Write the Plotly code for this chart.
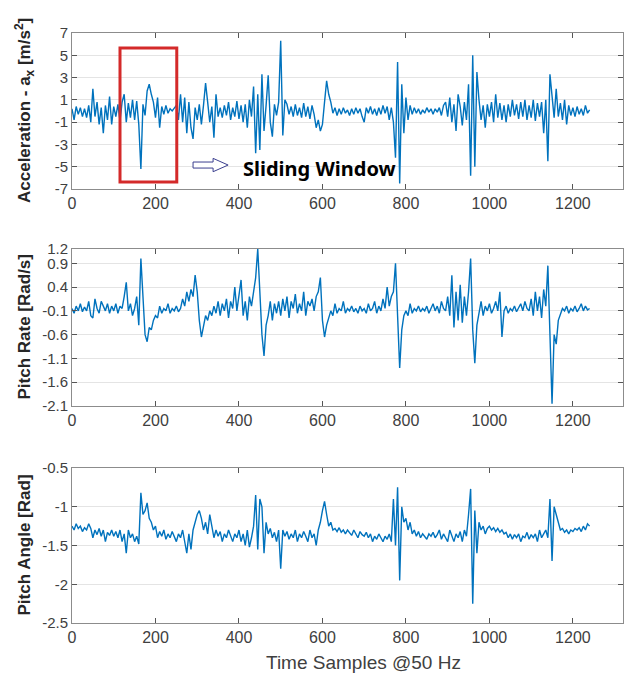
import plotly.graph_objects as go

# ---------------- data (one value every 5 samples) ----------------
step = 5
n_pts = 249
time_samples = [i * step for i in range(n_pts)]

accel_x = [
    0.2, -0.8, 0.4, -0.3, 0.3, -0.5, 0.2, -0.6, 0.5, -1.0, 2.0, -0.5, 0.8, -1.2, 0.3, -2.0, 0.5, -0.8, 1.3, -1.2,
    0.4, -0.5, 0.6, -0.9, 0.8, 1.5, -1.0, 0.7, -0.6, 1.0, -0.8, 0.9, -1.2, -5.2, 0.6, -0.4, 1.8, 2.4, 1.5, 0.8,
    -0.6, 1.2, -1.5, 0.4, -0.3, 0.5, -0.2, 0.2, 0.0, 0.3, 0.5, -0.8, 1.5, -1.0, 1.2, -2.0, 0.8, -1.5, -2.5, 0.3,
    -0.8, 0.6, -1.2, 0.5, 2.5, 0.8, -1.0, 0.4, -2.4, 1.5, -0.5, 0.3, -0.6, 0.5, -0.4, 0.8, -0.8, 0.3, -0.5, 0.9,
    -0.7, 0.5, -1.0, 0.6, -1.5, 1.0, -0.5, 2.2, -3.8, 1.5, -3.5, 3.3, -1.8, 0.5, 3.2, -1.0, -2.3, 0.6, -0.4, 0.8,
    6.3, -2.2, 1.0, 0.6, -0.3, 0.4, -0.5, 0.6, -0.4, 0.3, -0.6, 0.7, -0.5, 0.4, -0.7, 0.5, -0.3, -1.5, -0.8, -1.8,
    -1.2, 0.8, 2.7, 1.5, 0.8, -0.2, 0.3, -0.4, 0.2, -0.3, 0.3, -0.2, 0.1, -0.4, 0.2, -0.3, 0.3, -0.2, 0.2, -0.5,
    -1.0, 0.3, -0.2, 0.4, -0.3, 0.2, -0.4, 0.3, -0.3, 0.5, -0.2, 0.4, -0.8, 0.3, -1.0, -4.2, 4.4, -6.5, 2.4, -2.0,
    1.2, -0.8, 0.5, -0.3, 0.3, -0.2, 0.2, -0.3, 0.1, -0.2, 0.3, -0.1, 0.2, -0.3, 0.2, -0.1, 0.3, -0.4, 0.5, 0.8,
    -0.5, 1.2, -1.0, 0.6, -1.8, 1.5, 0.4, -1.3, 0.8, -0.8, 2.4, -5.8, 5.0, -5.0, 3.5, 1.0, -0.8, 0.5, -1.5, 0.6,
    -0.5, 0.8, -1.0, 1.5, -0.6, 0.7, -0.8, 0.5, -1.0, 0.6, -0.5, 1.0, -0.4, 0.6, -0.7, 0.8, -0.5, 1.0, -0.8, 0.5,
    -0.6, 1.0, -0.9, 0.7, -0.5, 0.8, -2.0, 1.0, -4.5, 3.3, 1.5, -0.6, 2.0, -0.5, 0.7, -0.8, 1.0, -1.2, 0.5, -0.4,
    0.3, -0.5, 0.4, -0.3, 0.2, -0.4, 0.5, -0.2, 0.1,
]

pitch_rate = [
    -0.05, -0.15, 0.0, -0.1, 0.05, -0.12, -0.02, -0.1, 0.1, -0.2, -0.25, 0.15, -0.05, -0.15, 0.1, 0.0, -0.1, 0.05, -0.15, 0.0,
    -0.1, 0.05, -0.15, 0.0, -0.05, 0.2, 0.5, -0.1, 0.05, -0.2, -0.05, 0.2, -0.4, 1.0, 0.1, -0.6, -0.75, -0.45, -0.5, -0.3,
    -0.2, -0.25, 0.0, -0.15, -0.05, -0.1, 0.05, -0.15, -0.05, -0.1, 0.0, -0.12, -0.05, 0.15, 0.0, 0.3, 0.1, 0.35, 0.2, 0.65,
    0.3, -0.3, -0.65, -0.4, -0.2, -0.3, -0.1, -0.2, 0.0, -0.15, 0.1, -0.2, 0.05, -0.1, 0.15, -0.25, 0.1, -0.05, 0.4, -0.1,
    0.2, 0.55, -0.2, 0.1, -0.3, 0.2, 0.0, 0.3, 0.6, 1.2, 0.3, -0.6, -1.05, -0.4, -0.2, 0.1, -0.3, 0.05, -0.15, 0.1,
    -0.2, 0.15, -0.1, 0.2, -0.25, 0.1, -0.05, 0.25, -0.15, 0.05, -0.1, 0.3, -0.2, 0.1, 0.0, 0.15, -0.1, 0.2, 0.3, 0.6,
    -0.3, -0.65, -0.4, -0.25, -0.1, -0.2, 0.05, -0.15, -0.05, -0.1, 0.1, -0.15, -0.05, -0.1, 0.0, -0.12, -0.05, -0.15, 0.0, -0.1,
    -0.05, -0.15, 0.05, -0.1, -0.05, 0.1, -0.15, 0.0, -0.1, 0.15, -0.05, 0.4, 0.0, 0.2, 0.3, 0.9, -0.4, -1.3, -0.5, -0.2,
    -0.1, -0.2, 0.05, -0.15, -0.05, -0.1, 0.0, -0.12, -0.05, -0.1, 0.0, -0.15, -0.05, 0.05, -0.1, 0.0, -0.15, 0.1, -0.05, -0.1,
    0.2, -0.2, 0.65, -0.45, 0.3, -0.3, 0.45, -0.35, 0.2, -0.2, 0.3, 1.0, -0.5, -1.2, -0.4, -0.15, 0.1, -0.2, 0.0, -0.1,
    0.05, -0.15, -0.05, 0.1, -0.1, 0.3, -0.65, -0.1, 0.0, -0.15, -0.05, -0.1, 0.0, -0.12, -0.05, 0.05, -0.1, 0.1, -0.05, -0.1,
    0.15, -0.2, 0.3, -0.1, 0.2, -0.25, 0.35, 0.0, 0.85, -0.5, -2.05, -0.6, -0.8, -0.3, -0.15, -0.05, -0.1, 0.0, -0.15, -0.05,
    -0.1, 0.0, -0.12, -0.05, 0.05, -0.1, 0.0, -0.08, -0.05,
]

pitch_angle = [
    -1.25, -1.3, -1.22, -1.28, -1.25, -1.32, -1.27, -1.3, -1.22, -1.28, -1.4, -1.3, -1.36, -1.28, -1.38, -1.3, -1.45, -1.33, -1.37, -1.3,
    -1.38, -1.32, -1.4, -1.3, -1.45, -1.35, -1.6, -1.3, -1.4, -1.35, -1.45, -1.38, -1.48, -0.82, -1.1, -1.05, -0.95, -1.15, -1.2, -1.3,
    -1.25, -1.4, -1.32, -1.38, -1.3, -1.42, -1.35, -1.4, -1.32, -1.38, -1.45, -1.35, -1.4, -1.3, -1.45, -1.6, -1.35, -1.55, -1.3, -1.2,
    -1.1, -1.05, -1.15, -1.3, -1.2, -1.35, -1.1, -1.25, -1.4, -1.3, -1.38, -1.32, -1.45, -1.35, -1.4, -1.3, -1.38, -1.45, -1.35, -1.4,
    -1.3, -1.45, -1.35, -1.5, -1.3, -1.52, -1.4, -1.25, -0.85, -1.55, -0.9, -1.0, -1.6, -1.2, -1.35, -1.28, -1.4, -1.33, -1.45, -1.3,
    -1.8, -1.3, -1.38, -1.32, -1.42, -1.35, -1.4, -1.3, -1.45, -1.35, -1.4, -1.32, -1.38, -1.45, -1.3, -1.4, -1.35, -1.5, -1.3, -1.2,
    -1.05, -0.93, -1.1, -1.25, -1.2, -1.3, -1.28, -1.32, -1.27, -1.33, -1.3, -1.35, -1.3, -1.33, -1.37, -1.3, -1.35, -1.4, -1.32, -1.36,
    -1.38, -1.33, -1.4, -1.35, -1.45, -1.38, -1.42, -1.35, -1.4, -1.45, -1.38, -1.42, -1.35, -1.45, -0.9, -1.5, -0.75, -1.95, -1.0, -1.2,
    -1.15, -1.3, -1.2, -1.35, -1.3, -1.38, -1.32, -1.4, -1.35, -1.38, -1.42, -1.35, -1.38, -1.33, -1.4, -1.36, -1.3, -1.42, -1.35, -1.4,
    -1.45, -1.3, -1.38, -1.45, -1.35, -1.4, -1.32, -1.45, -1.3, -1.38, -1.1, -0.77, -2.25, -1.05, -1.6, -1.2, -1.3, -1.25, -1.35, -1.28,
    -1.25, -1.3, -1.27, -1.32, -1.28, -1.33, -1.3, -1.35, -1.33, -1.4, -1.35, -1.42, -1.36, -1.4, -1.35, -1.45, -1.38, -1.4, -1.33, -1.42,
    -1.36, -1.4, -1.35, -1.45, -1.3, -1.4, -1.35, -1.3, -1.4, -0.9, -1.7, -1.0, -1.1, -1.2, -1.3, -1.28, -1.33, -1.3, -1.35, -1.3,
    -1.32, -1.28, -1.3, -1.27, -1.32, -1.25, -1.3, -1.22, -1.25,
]

x_ticks = [0, 200, 400, 600, 800, 1000, 1200]
accel_ticks = [7, 5, 3, 1, -1, -3, -5, -7]
rate_ticks = [1.2, 0.9, 0.4, -0.1, -0.6, -1.1, -1.6, -2.1]
angle_ticks = [-0.5, -1, -1.5, -2, -2.5]
window_x = [115, 251]      # sliding window bounds (samples)
window_y = [-6.37, 5.65]   # sliding window bounds (m/s^2)

# ---------------- figure ----------------
W, H = 629, 674
ML, MR, MT, MB = 72, 6, 20, 20
PW, PH = W - ML - MR, H - MT - MB
LINE = "#0072BD"
AX = "#8c8c8c"
TICKFONT = dict(family="Liberation Sans, Arial", size=15, color="#404040")

def fy(px):   # pixel row -> paper fraction
    return (H - MB - px) / PH

def fx(px):   # pixel column -> paper fraction
    return (px - ML) / PW

panels = [
    (accel_x, accel_ticks, [-7, 7], (33, 189)),
    (pitch_rate, rate_ticks, [-2.1, 1.2], (249, 406)),
    (pitch_angle, angle_ticks, [-2.5, -0.5], (468, 623)),
]

fig = go.Figure()
layout = dict(
    width=W, height=H, margin=dict(l=ML, r=MR, t=MT, b=MB),
    paper_bgcolor="white", plot_bgcolor="white", showlegend=False,
)
for i, (vals, ticks, rng, (top, bot)) in enumerate(panels, start=1):
    sfx = "" if i == 1 else str(i)
    fig.add_trace(go.Scatter(
        x=time_samples, y=vals, mode="lines",
        line=dict(color=LINE, width=1.4),
        xaxis="x" + sfx, yaxis="y" + sfx, hoverinfo="skip",
    ))
    layout["xaxis" + sfx] = dict(
        domain=[0, 1], range=[0, 1320], anchor="y" + sfx,
        tickmode="array", tickvals=x_ticks, ticktext=[str(v) for v in x_ticks],
        showgrid=False, zeroline=False, showline=True, linecolor=AX, linewidth=1,
        mirror="allticks", ticks="inside", ticklen=5, tickcolor="#555555",
        tickfont=dict(TICKFONT, size=16),
    )
    layout["yaxis" + sfx] = dict(
        domain=[fy(bot), fy(top)], range=rng, anchor="x" + sfx,
        tickmode="array", tickvals=ticks, ticktext=[f"{v:g}" for v in ticks],
        showgrid=True, gridcolor="#e4e4e4", gridwidth=1, zeroline=False,
        showline=True, linecolor=AX, linewidth=1,
        mirror="allticks", ticks="inside", ticklen=5, tickcolor="#555555",
        tickfont=TICKFONT,
    )
fig.update_layout(**layout)

# sliding window rectangle
fig.add_shape(type="rect", xref="x", yref="y",
              x0=window_x[0], x1=window_x[1], y0=window_y[0], y1=window_y[1],
              line=dict(color="#d42a2a", width=3), fillcolor="rgba(0,0,0,0)")

# hollow arrow
ay = -4.85
fig.add_shape(type="path", xref="x", yref="y",
              path=(f"M 290,{ay+0.27} L 338,{ay+0.27} L 338,{ay+0.6} L 374,{ay} "
                    f"L 338,{ay-0.6} L 338,{ay-0.27} L 290,{ay-0.27} Z"),
              line=dict(color="#3b3f8f", width=1), fillcolor="white")

fig.add_annotation(x=592, y=-5.2, xref="x", yref="y", text="<b>Sliding Window</b>",
                   showarrow=False, font=dict(family="Noto Sans", size=20, color="black"))

# axis titles
ytitles = [
    ("<b>Acceleration - a<sub>x</sub> [m/s<sup>2</sup>]</b>", (33 + 189) / 2),
    ("<b>Pitch Rate [Rad/s]</b>", (249 + 406) / 2),
    ("<b>Pitch Angle [Rad]</b>", (468 + 623) / 2),
]
for txt, yc in ytitles:
    fig.add_annotation(x=fx(24), y=fy(yc), xref="paper", yref="paper", text=txt,
                       textangle=-90, showarrow=False, xanchor="center", yanchor="middle",
                       font=dict(family="Liberation Sans, Arial", size=17, color="#262626"))

fig.add_annotation(x=fx(363), y=fy(662), xref="paper", yref="paper",
                   text="Time Samples @50 Hz", showarrow=False,
                   xanchor="center", yanchor="middle",
                   font=dict(family="Liberation Sans, Arial", size=19, color="#404040"))

fig.write_html("out.html")
